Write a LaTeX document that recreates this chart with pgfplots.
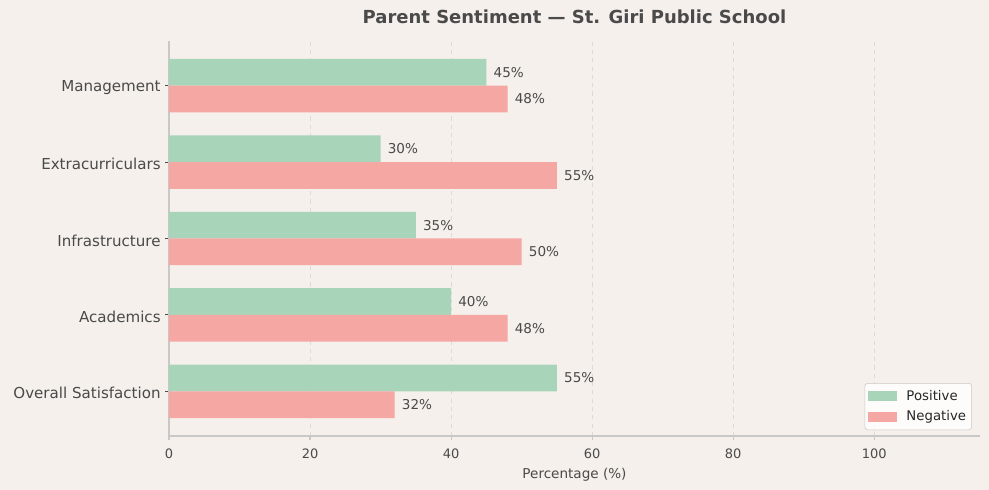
\documentclass[border=0pt]{standalone}
\usepackage{fontspec}
\setmainfont{DejaVu Sans}
\usepackage{pgfplots}
\usepackage{pgfplotstable}
\pgfplotsset{compat=1.18}

\definecolor{bg}{HTML}{F5F0EB}
\definecolor{pos}{HTML}{A8D5BA}
\definecolor{neg}{HTML}{F5A7A3}
\definecolor{txt}{HTML}{4A4A4A}
\definecolor{spine}{HTML}{C8C8C8}
\definecolor{gridc}{HTML}{DEDAD6}

% 0 = Overall Satisfaction ... 4 = Management
\pgfplotstableread{
y pos neg
0 55 32
1 40 48
2 35 50
3 30 55
4 45 48
}\sentiment

\begin{document}
\begin{tikzpicture}
\fill[bg] (-1.69in,-0.54in) rectangle (8.20in,4.36in);
\begin{axis}[
    at={(0,0)}, anchor=south west,
    scale only axis,
    width=8.11in, height=3.95in,
    xmin=0, xmax=115,
    ymin=-0.585, ymax=4.585,
    xtick={0,20,...,100},
    ytick={0,...,4},
    yticklabels={Overall Satisfaction,Academics,Infrastructure,Extracurriculars,Management},
    axis x line*=bottom,
    axis y line*=left,
    axis line style={spine, line width=0.8pt},
    tick align=outside,
    major tick length=0.035in,
    x tick style={spine, line width=0.8pt},
    y tick style={txt, line width=0.8pt},
    xmajorgrids=true,
    grid style={gridc, dashed, line width=0.6pt},
    x tick label style={font=\fontsize{9.4}{11}\selectfont, text=txt, yshift=-0.04in},
    y tick label style={font=\fontsize{10.9}{13}\selectfont, text=txt, yshift=-0.02in},
    /pgf/number format/assume math mode=true,
    xlabel={Percentage (\%)},
    xlabel style={font=\fontsize{9.8}{12}\selectfont, text=txt, at={(0.5,0)}, anchor=center, yshift=-0.39in},
    title={Parent Sentiment — St. Giri Public School},
    title style={font=\bfseries\fontsize{13}{15}\selectfont, text=txt, at={(0.5,1)}, anchor=center, yshift=0.16in},
    xbar,
    bar width=0.35,
    nodes near coords={\pgfmathprintnumber{\pgfplotspointmeta}\%},
    nodes near coords style={font=\fontsize{9.8}{12}\selectfont, text=txt, anchor=west, inner sep=0pt, xshift=0.07in},
    legend style={at={(0.990,0.015)}, anchor=south east, fill=white, fill opacity=0.8, text opacity=1,
        draw=spine, rounded corners=2pt, font=\fontsize{9.6}{12}\selectfont, text=black!85,
        row sep=2pt, inner xsep=2pt, inner ysep=3pt},
    legend cell align=left,
    legend image code/.code={
        \fill[#1, fill opacity=1, sharp corners] (0in,-0.05in) rectangle (0.29in,0.05in);
        \path (0.36in,0);},
]
\addplot[fill=pos, draw=none, bar shift=0.175] table[x=pos, y=y] {\sentiment};
\addplot[fill=neg, draw=none, bar shift=-0.175] table[x=neg, y=y] {\sentiment};
\legend{Positive,Negative}
\end{axis}
\pgfresetboundingbox
\path[use as bounding box] (-1.69in,-0.54in) rectangle (8.20in,4.36in);
\end{tikzpicture}
\end{document}
